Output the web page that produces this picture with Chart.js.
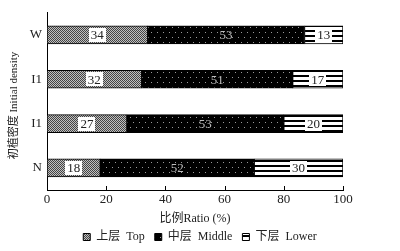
<!DOCTYPE html>
<html>
<head>
<meta charset="utf-8">
<script src="https://cdn.jsdelivr.net/npm/chart.js@4.4.1/dist/chart.umd.min.js"></script>
<style>
  html, body { margin: 0; padding: 0; background: #fff; }
  canvas { display: block; }
</style>
</head>
<body>
<canvas id="layerChart" width="400" height="251"></canvas>
<script>
const categories = ["W", "I1", "I1", "N"];
const topShare = [34, 32, 27, 18];
const middleShare = [53, 51, 53, 52];
const lowerShare = [13, 17, 20, 30];
const seriesNames = ["上层  Top", "中层  Middle", "下层  Lower"];
const xTicks = [0, 20, 40, 60, 80, 100];

const FONT = "'Liberation Serif', 'Noto Sans CJK SC', serif";

// small tiles used as fills
function makePattern(w, h, draw) {
  const c = document.createElement("canvas");
  c.width = w; c.height = h;
  const g = c.getContext("2d");
  draw(g);
  return document.createElement("canvas").getContext("2d").createPattern(c, "repeat");
}

const checkFill = makePattern(2, 2, g => {
  g.fillStyle = "#c0c0c0"; g.fillRect(0, 0, 2, 2);
  g.fillStyle = "#444"; g.fillRect(0, 0, 1, 1); g.fillRect(1, 1, 1, 1);
});
const dotFill = makePattern(6, 10, g => {
  g.fillStyle = "#000"; g.fillRect(0, 0, 6, 10);
  g.fillStyle = "#9a9a9a"; g.fillRect(1, 2, 1, 1); g.fillRect(4, 7, 1, 1);
});
const stripeFill = makePattern(4, 5, g => {
  g.fillStyle = "#fff"; g.fillRect(0, 0, 4, 5);
  g.fillStyle = "#000"; g.fillRect(0, 0, 4, 2);
});

const innerTicks = {
  id: "innerTicks",
  afterDraw(chart) {
    const x = chart.scales.x;
    const ctx = chart.ctx;
    ctx.save();
    ctx.strokeStyle = "#000";
    ctx.lineWidth = 1;
    x.ticks.forEach(t => {
      const px = Math.round(x.getPixelForValue(t.value)) + 0.5;
      ctx.beginPath();
      ctx.moveTo(px, x.top);
      ctx.lineTo(px, x.top - 4);
      ctx.stroke();
    });
    ctx.restore();
  }
};

const barLabels = {
  id: "barLabels",
  afterDatasetsDraw(chart) {
    const ctx = chart.ctx;
    ctx.save();
    ctx.font = "13px " + FONT;
    ctx.textAlign = "center";
    ctx.textBaseline = "middle";
    chart.data.datasets.forEach((ds, i) => {
      chart.getDatasetMeta(i).data.forEach((bar, j) => {
        const cx = (bar.x + bar.base) / 2;
        const cy = bar.y;
        const txt = String(ds.data[j]);
        const w = ctx.measureText(txt).width;
        if (i !== 1) {
          ctx.fillStyle = "#fff";
          ctx.fillRect(Math.round(cx - w / 2 - 2), Math.round(cy - 7), Math.round(w + 4), 14);
          ctx.fillStyle = "#222";
        } else {
          ctx.fillStyle = "#bbb";
        }
        ctx.fillText(txt, cx, cy + 1);
      });
    });
    ctx.restore();
  }
};

const ctx = document.getElementById("layerChart");
new Chart(ctx, {
  type: "bar",
  data: {
    labels: categories,
    datasets: [
      { label: seriesNames[0], data: topShare, backgroundColor: checkFill },
      { label: seriesNames[1], data: middleShare, backgroundColor: dotFill },
      { label: seriesNames[2], data: lowerShare, backgroundColor: stripeFill }
    ].map(d => Object.assign(d, { borderColor: "#000", borderWidth: 1, borderSkipped: false, barThickness: 18 }))
  },
  options: {
    indexAxis: "y",
    responsive: false,
    animation: false,
    devicePixelRatio: 1,
    layout: { padding: { top: 12, right: 0, left: 0, bottom: -2 } },
    plugins: {
      tooltip: { enabled: false },
      legend: {
        position: "bottom",
        labels: {
          font: { family: FONT, size: 12 },
          color: "#222",
          boxWidth: 7,
          boxHeight: 7,
          padding: 10
        }
      }
    },
    scales: {
      x: {
        stacked: true,
        min: 0,
        max: 100,
        afterBuildTicks: s => { s.ticks = xTicks.map(v => ({ value: v })); },
        grid: { display: false, drawTicks: false },
        border: { display: true, color: "#000", width: 1 },
        ticks: { font: { family: FONT, size: 13 }, color: "#222", padding: 2 },
        title: {
          display: true,
          text: "比例Ratio (%)",
          font: { family: FONT, size: 12 },
          color: "#222",
          padding: { top: 2, bottom: -5 }
        },
        afterFit: s => { s.height = 31; }
      },
      y: {
        stacked: true,
        grid: { display: false, drawTicks: false },
        border: { display: true, color: "#000", width: 1 },
        ticks: { font: { family: FONT, size: 13 }, color: "#222", padding: 5 },
        title: {
          display: true,
          text: "初植密度 Initial density\u00a0\u00a0\u00a0",
          font: { family: FONT, size: 11 },
          color: "#222",
          padding: { top: 8, bottom: 0 }
        },
        afterFit: s => { s.width = 47; }
      },
      yRight: {
        type: "category",
        position: "right",
        grid: { display: false, drawTicks: false },
        border: { display: false },
        ticks: { display: false },
        afterFit: s => { s.width = 57; }
      }
    }
  },
  plugins: [innerTicks, barLabels]
});
</script>
</body>
</html>
